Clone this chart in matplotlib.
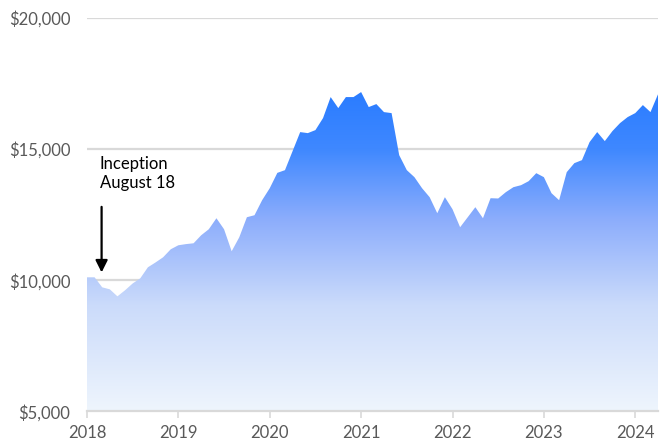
import numpy as np
import matplotlib
matplotlib.use('Agg')
import matplotlib.pyplot as plt
from matplotlib.colors import LinearSegmentedColormap
from matplotlib.patches import Polygon

plt.rcParams['font.family'] = ['Lato', 'DejaVu Sans']

# monthly growth of $10,000, Jan 2018 - Apr 2024
start_year = 2018
values = [
    10115, 10115, 9733, 9656, 9389, 9620, 9880, 10076, 10496, 10680, 10878, 11183,   # 2018
    11336, 11380, 11412, 11718, 11947, 12366, 11947, 11107, 11641, 12405, 12481, 13053,  # 2019
    13510, 14096, 14199, 14924, 15650, 15611, 15726, 16184, 16985, 16565, 16985, 16985,  # 2020
    17176, 16604, 16718, 16412, 16374, 14771, 14199, 13932, 13512, 13168, 12557, 13168,  # 2021
    12710, 12023, 12405, 12787, 12366, 13130, 13119, 13359, 13550, 13626, 13779, 14084,  # 2022
    13932, 13321, 13054, 14122, 14466, 14581, 15268, 15650, 15306, 15688, 15993, 16222,  # 2023
    16374, 16680, 16412, 17100,  # 2024
]
year_ticks = [2018, 2019, 2020, 2021, 2022, 2023, 2024]
y_ticks = [5000, 10000, 15000, 20000]
note_text = 'Inception\nAugust 18'
note_x = 2018.16

x = start_year + np.arange(len(values)) / 12.0
y = np.array(values, dtype=float)
ymin, ymax = 5000, 20000

fig = plt.figure(figsize=(6.68, 4.45), dpi=100)
ax = fig.add_axes([0.1302, 0.0753, 0.855, 0.8843])
ax.set_xlim(x[0], x[-1])
ax.set_ylim(ymin, ymax)

# gridlines
for t in y_ticks[1:]:
    ax.axhline(t, color='#d9d9d9', lw=1.6, zorder=0)

# gradient fill clipped to the area under the curve
cmap = LinearSegmentedColormap.from_list('g', [
    (0.0, '#eef5fd'),
    (0.33, '#cbdbfa'),
    (0.60, '#8cadfc'),
    (0.82, '#3f88ff'),
    (1.0, '#2a7cff'),
])
top = y.max()
grad = np.linspace(0, 1, 256).reshape(-1, 1)
im = ax.imshow(grad, cmap=cmap, aspect='auto', origin='lower',
               extent=[x[0], x[-1], ymin, top], zorder=1)
verts = np.vstack([[x[0], ymin], np.column_stack([x, y]), [x[-1], ymin]])
poly = Polygon(verts, closed=True, facecolor='none', edgecolor='none')
ax.add_patch(poly)
im.set_clip_path(poly)

# axes styling
for s in ['top', 'right', 'left']:
    ax.spines[s].set_visible(False)
ax.spines['bottom'].set_color('#d9d9d9')
ax.spines['bottom'].set_linewidth(1.6)
ax.set_xticks(year_ticks)
ax.set_xticklabels([str(t) for t in year_ticks])
ax.set_yticks(y_ticks)
ax.set_yticklabels(['${:,}'.format(t) for t in y_ticks])
ax.tick_params(axis='x', colors='#d9d9d9', length=5, width=1.2, labelcolor='#595959',
               labelsize=12, pad=5)
ax.tick_params(axis='y', length=0, labelcolor='#595959', labelsize=12, pad=12)

# inception annotation
ax.annotate('', xy=(note_x, 10300), xytext=(note_x, 12800),
            arrowprops=dict(arrowstyle='-|>', color='black', lw=1.6,
                            mutation_scale=18, shrinkA=0, shrinkB=0), zorder=3)
ax.text(note_x - 0.02, 14750, note_text, fontsize=12, color='black',
        va='top', ha='left', linespacing=1.25, zorder=3)

fig.savefig('out.png', dpi=100)
